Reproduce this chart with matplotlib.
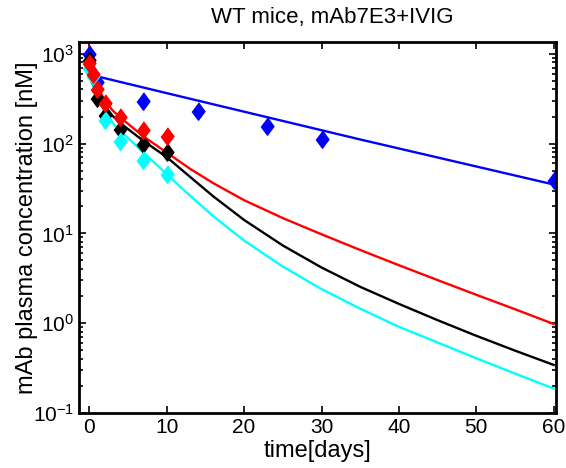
import matplotlib
matplotlib.use("Agg")
import matplotlib.pyplot as plt
from matplotlib.ticker import LogLocator, NullFormatter

plt.rcParams["font.family"] = ["Liberation Sans", "DejaVu Sans"]
plt.rcParams["mathtext.fontset"] = "custom"
plt.rcParams["mathtext.rm"] = "Liberation Sans"
plt.rcParams["mathtext.it"] = "Liberation Sans:italic"

# measured data (diamonds)
blue_t = [0, 1, 7, 14, 23, 30, 60]
blue_c = [1000, 490, 296, 229, 156, 113, 39.6]
red_t = [0, 0.5, 1, 2, 4, 7, 10]
red_c = [790, 590, 400, 285, 200, 143, 120]
black_t = [0, 1, 2, 4, 7, 10]
black_c = [850, 322, 210, 147, 100, 80]
cyan_t = [0, 0.5, 2, 4, 7, 10]
cyan_c = [700, 560, 181, 106, 65, 46]

# model curves
blue_fit_t = [1, 12, 35, 60]
blue_fit_c = [560, 331, 111, 35]
fit_t = [0, 0.1, 0.25, 0.5, 1, 2, 3, 4, 5, 7, 10, 13, 16, 20, 25, 30, 35, 40, 45, 50, 55, 60]
red_fit = [1200, 794, 676, 562, 427, 302, 234, 195, 166, 120, 79.4, 52.5, 36.3, 23.4,
           14.8, 9.77, 6.53, 4.42, 3.02, 2.07, 1.43, 0.98]
black_fit = [1000, 724, 603, 501, 380, 263, 204, 170, 145, 107, 70.6, 42.7, 25.9, 14.1,
             7.33, 4.17, 2.54, 1.64, 1.08, 0.724, 0.495, 0.343]
cyan_fit = [850, 631, 525, 437, 331, 224, 170, 138, 115, 79.4, 45.7, 26.3, 15.6, 8.32,
            4.27, 2.40, 1.45, 0.912, 0.610, 0.407, 0.275, 0.187]

diamond = [(0, 1), (0.74, 0), (0, -1), (-0.74, 0)]

fig = plt.figure(figsize=(5.66, 4.68), dpi=100)
ax = fig.add_axes([0.1396, 0.1175, 0.8428, 0.7927])

ax.plot(blue_fit_t, blue_fit_c, color="blue", lw=1.7)
ax.plot(fit_t, red_fit, color="red", lw=1.7)
ax.plot(fit_t, black_fit, color="black", lw=1.7)
ax.plot(fit_t, cyan_fit, color="cyan", lw=1.7)

ms = 12.5
ax.plot(blue_t, blue_c, linestyle="none", marker=diamond, ms=ms, color="blue")
ax.plot(black_t, black_c, linestyle="none", marker=diamond, ms=ms, color="black")
ax.plot(cyan_t, cyan_c, linestyle="none", marker=diamond, ms=ms, color="cyan")
ax.plot(red_t, red_c, linestyle="none", marker=diamond, ms=ms, color="red")

ax.set_yscale("log")
ax.set_xlim(-1.33, 60.3)
ax.set_ylim(0.1, 1350)
ax.set_xticks([0, 10, 20, 30, 40, 50, 60])
ax.yaxis.set_major_locator(LogLocator(base=10, numticks=10))
ax.yaxis.set_minor_locator(LogLocator(base=10, subs=range(2, 10), numticks=20))
ax.yaxis.set_minor_formatter(NullFormatter())

ax.tick_params(which="both", direction="in", top=True, right=True, labelsize=15, width=1.2)
ax.tick_params(which="major", length=5)
ax.tick_params(which="minor", length=3)
for s in ax.spines.values():
    s.set_linewidth(2)

ax.set_xlabel("time[days]", fontsize=17, labelpad=2)
ax.set_ylabel("mAb plasma concentration [nM]", fontsize=17, labelpad=-4)
ax.set_title("WT mice, mAb7E3+IVIG", fontsize=16, pad=14, x=0.53)

fig.savefig("out.png", dpi=100)
